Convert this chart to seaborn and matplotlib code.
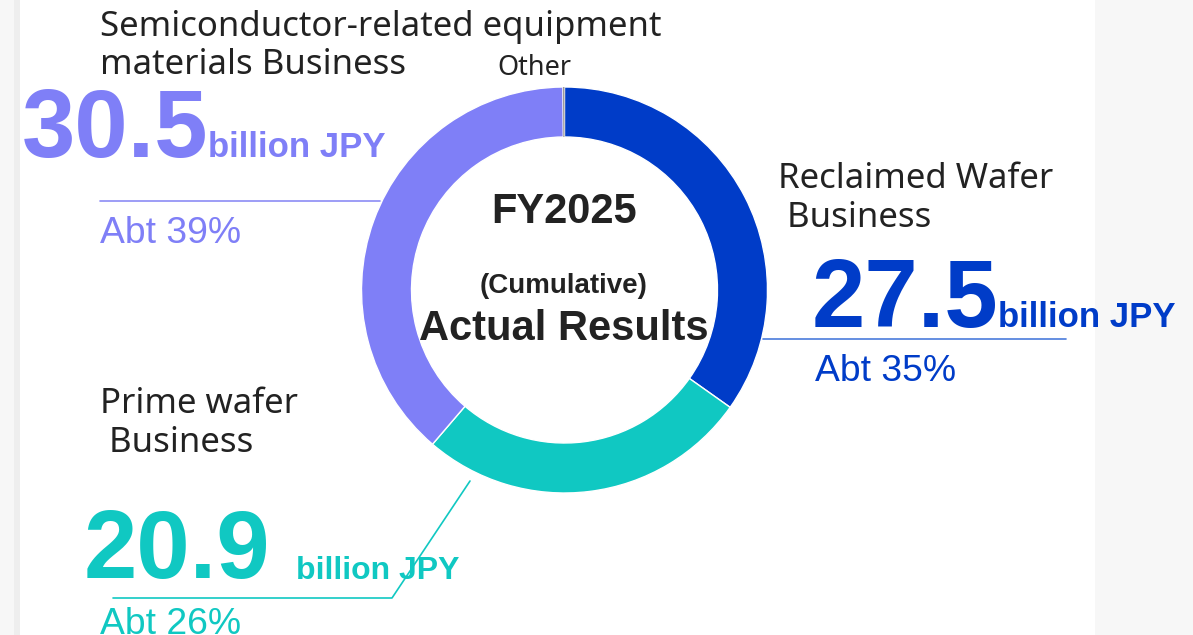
import matplotlib.pyplot as plt
import seaborn as sns

# --- DATA ---
segments = ["Reclaimed Wafer\n Business", "Prime wafer\n Business",
            "Semiconductor-related equipment\nmaterials Business", "Other"]
sales = [27.5, 20.9, 30.5, 0.1]          # billion JPY
shares = [35, 26, 39, None]              # approx. %
center_lines = ["FY2025", "(Cumulative)", "Actual Results"]

# --- STYLE ---
sns.set_theme(style="white")
COLORS = ["#003CC8", "#10C8C2", "#7F7FF7", "#9A9A9A"]
LINE_COLORS = ["#4A7BDB", "#10C8C2", "#8C8CF5"]
TXT = "#222222"
LABEL_FONT = ["Noto Sans", "DejaVu Sans"]
NUM_FONT = ["Liberation Sans", "DejaVu Sans"]
LABEL_SIZE = 25

W, H = 1193, 635
fig = plt.figure(figsize=(W / 100, H / 100), dpi=100)
fig.patch.set_facecolor("#f7f7f7")
ax = fig.add_axes([0, 0, 1, 1])

Y = lambda y: H - y   # image-style y (top = 0)


def label(x, baselines, text):
    # draw a two-line segment name, one line at a time
    for yb, line in zip(baselines, text.split("\n")):
        ax.text(x, Y(yb), line, ha="left", va="baseline", fontsize=LABEL_SIZE,
                color=TXT, family=LABEL_FONT)


# white card
ax.add_patch(plt.Rectangle((20, 0), 1075, H, facecolor="white", edgecolor="none", zorder=0))
ax.add_patch(plt.Rectangle((14, 0), 6, H, facecolor="#eeeeee", edgecolor="none", zorder=0))

# --- DONUT ---
wedges, _ = ax.pie(sales, colors=COLORS, startangle=90, counterclock=False,
                   radius=203, center=(564.5, Y(290)),
                   wedgeprops=dict(width=50, edgecolor="white", linewidth=1))
wedges[-1].set_linewidth(0)
ax.set_xlim(0, W)
ax.set_ylim(0, H)
ax.set_aspect("equal")
ax.axis("off")

# center text
ax.text(564, Y(223), center_lines[0], ha="center", va="baseline", fontsize=30,
        fontweight="bold", color=TXT, family=NUM_FONT)
ax.text(564, Y(293), center_lines[1], ha="center", va="baseline", fontsize=20,
        fontweight="bold", color=TXT, family=NUM_FONT)
ax.text(564, Y(340), center_lines[2], ha="center", va="baseline", fontsize=30,
        fontweight="bold", color=TXT, family=NUM_FONT)

# --- Semiconductor-related (purple) ---
label(100, [36, 74], segments[2])
ax.text(22, Y(157), f"{sales[2]}", ha="left", va="baseline", fontsize=69,
        fontweight="bold", color=COLORS[2], family=NUM_FONT)
ax.text(208, Y(157), "billion JPY", ha="left", va="baseline", fontsize=25,
        fontweight="bold", color=COLORS[2], family=NUM_FONT)
ax.plot([100, 380], [Y(201), Y(201)], color=LINE_COLORS[2], lw=1.2)
ax.text(100, Y(243), f"Abt {shares[2]}%", ha="left", va="baseline", fontsize=26.8,
        color=COLORS[2], family=NUM_FONT)

# --- Other ---
ax.text(497, Y(75), segments[3], ha="left", va="baseline", fontsize=19.5,
        color=TXT, family=LABEL_FONT)

# --- Reclaimed (blue) ---
label(778, [188, 227], segments[0])
ax.text(812, Y(327), f"{sales[0]}", ha="left", va="baseline", fontsize=69,
        fontweight="bold", color=COLORS[0], family=NUM_FONT)
ax.text(998, Y(327), "billion JPY", ha="left", va="baseline", fontsize=25,
        fontweight="bold", color=COLORS[0], family=NUM_FONT)
ax.plot([763, 1066], [Y(339), Y(339)], color=LINE_COLORS[0], lw=1.2)
ax.text(815, Y(381), f"Abt {shares[0]}%", ha="left", va="baseline", fontsize=26.8,
        color=COLORS[0], family=NUM_FONT)

# --- Prime wafer (teal) ---
label(100, [413, 452], segments[1])
ax.text(84, Y(578), f"{sales[1]}", ha="left", va="baseline", fontsize=69,
        fontweight="bold", color=COLORS[1], family=NUM_FONT)
ax.text(296, Y(579), "billion JPY", ha="left", va="baseline", fontsize=23,
        fontweight="bold", color=COLORS[1], family=NUM_FONT)
ax.plot([470, 392, 113], [Y(481), Y(598), Y(598)], color=LINE_COLORS[1], lw=1.2)
ax.text(100, Y(634), f"Abt {shares[1]}%", ha="left", va="baseline", fontsize=26.8,
        color=COLORS[1], family=NUM_FONT)

plt.savefig("out.png", dpi=100, facecolor=fig.get_facecolor())
plt.close()
